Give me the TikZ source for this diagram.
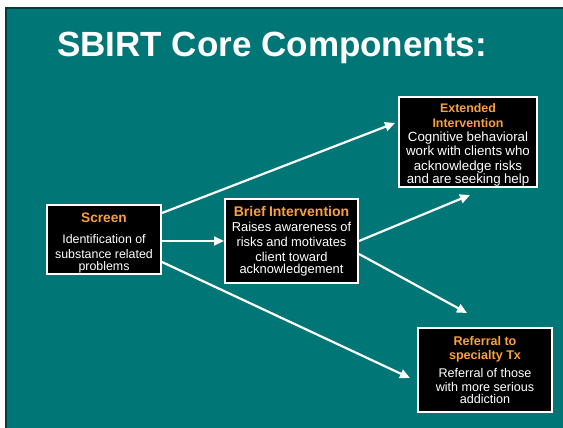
\documentclass[tikz,border=0pt]{standalone}
\usepackage{fontspec}
\setmainfont{Liberation Sans}
\usetikzlibrary{arrows.meta}
\definecolor{slideteal}{RGB}{0,118,118}
\definecolor{slideedge}{RGB}{0,62,62}
\definecolor{headorange}{RGB}{250,160,60}
\tikzset{
  compbox/.style={draw=white, line width=2pt, fill=black, text=white,
    inner sep=0pt, align=center},
  flowarrow/.style={draw=white, line width=2.2pt,
    -{Triangle[length=10pt,width=9pt]}},
}
\newcommand{\hd}[1]{{\color{headorange}\bfseries #1}}
\begin{document}
\begin{tikzpicture}[x=1pt,y=-1pt]
  \useasboundingbox (0,0) rectangle (563,428);
  % slide background with dark edge on top and left
  \fill[white] (0,0) rectangle (563,428);
  \fill[slideedge] (5,7) rectangle (563,428);
  \fill[slideteal] (7,9) rectangle (563,428);

  % title
  \node[anchor=base west, inner sep=0pt, text=white,
        font=\fontsize{35}{40}\selectfont\bfseries] (title) at (57,57)
        {SBIRT Core Components:};

  % component boxes (a strut on the first line pushes the text down a little)
  \node[compbox, minimum width=114pt, minimum height=69pt, text width=108pt]
    (scr) at (104,239.5)
    {\fontsize{13.7}{15}\selectfont\rule{0pt}{16pt}\hd{Screen}\\[6pt]
     \fontsize{12.4}{15}\selectfont Identification of\\ substance related\\ problems};

  \node[compbox, minimum width=133pt, minimum height=84pt, text width=128pt]
    (bi) at (291.5,241)
    {\fontsize{14}{15}\selectfont\hd{Brief Intervention}\\
     \fontsize{12.9}{15}\selectfont Raises awareness of\\ risks and motivates\\ client toward\\ acknowledgement};

  \node[compbox, minimum width=138pt, minimum height=89pt, text width=132pt]
    (ext) at (468,142)
    {\fontsize{12.4}{14.4}\selectfont\rule{0pt}{15pt}\hd{Extended}\\ \hd{Intervention}\\
     \fontsize{13.3}{14.4}\selectfont Cognitive behavioral\\ work with clients who\\ acknowledge risks\\ and are seeking help};

  \node[compbox, minimum width=134pt, minimum height=84pt, text width=128pt]
    (ref) at (485,370)
    {\fontsize{12.6}{14.8}\selectfont\hd{Referral to}\\ \hd{specialty Tx}\\[3pt]
     \fontsize{12.6}{14.5}\selectfont Referral of those\\ with more serious\\ addiction};

  % arrow tips
  \coordinate (tipext1) at (395,123);
  \coordinate (tipext2) at (470,195);
  \coordinate (tipref1) at (410,378);
  \coordinate (tipref2) at (467,313);

  % arrow starts on box edges
  \path (scr.east) ++(0,-26.5) coordinate (scrtop);
  \path (scr.east) ++(0,22.5) coordinate (scrbot);
  \path (bi.east) ++(0,13) coordinate (bibot);

  \draw[flowarrow] (scrtop) -- (tipext1);
  \draw[flowarrow] (scr.east |- bi.west) -- (bi.west);
  \draw[flowarrow] (scrbot) -- (tipref1);
  \draw[flowarrow] (bi.east) -- (tipext2);
  \draw[flowarrow] (bibot) -- (tipref2);
\end{tikzpicture}
\end{document}
